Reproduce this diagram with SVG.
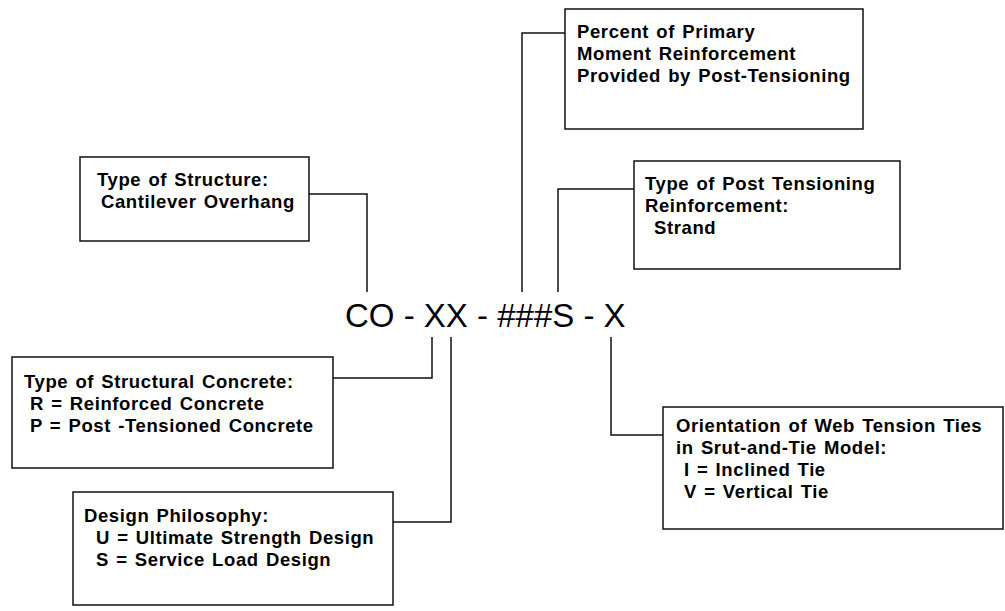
<svg xmlns="http://www.w3.org/2000/svg" width="1005" height="611" viewBox="0 0 1005 611">
<style>
.box{fill:#fff;stroke:#111;stroke-width:1.5}
.lbl{font-family:"Liberation Sans",Arial,sans-serif;font-weight:bold;font-size:18.5px;letter-spacing:0.6px;word-spacing:1.5px;fill:#000}
.conn{fill:none;stroke:#111;stroke-width:1.5}
.code{font-family:"Liberation Sans",Arial,sans-serif;font-size:33px;fill:#000}
</style>
<rect width="1005" height="611" fill="#fff"/>
<g id="connectors">
<polyline class="conn" points="309,194 367,194 367,292"/>
<polyline class="conn" points="565,33 522,33 522,292"/>
<polyline class="conn" points="634,189 558,189 558,292"/>
<polyline class="conn" points="333,378 432,378 432,337"/>
<polyline class="conn" points="393,522 451,522 451,337"/>
<polyline class="conn" points="663,435 611,435 611,337"/>
</g>
<g id="code">
<text class="code" x="345" y="327">CO - XX - ###S - X</text>
</g>
<g id="structure">
<rect class="box" x="80" y="157" width="229" height="84"/>
<text class="lbl" x="97" y="186">Type of Structure:</text>
<text class="lbl" x="101" y="208">Cantilever Overhang</text>
</g>
<g id="percent">
<rect class="box" x="565" y="9" width="298" height="120"/>
<text class="lbl" x="577" y="38">Percent of Primary</text>
<text class="lbl" x="577" y="60">Moment Reinforcement</text>
<text class="lbl" x="577" y="82">Provided by Post-Tensioning</text>
</g>
<g id="posttension">
<rect class="box" x="634" y="161" width="266" height="108"/>
<text class="lbl" x="645" y="190">Type of Post Tensioning</text>
<text class="lbl" x="645" y="212">Reinforcement:</text>
<text class="lbl" x="654" y="234">Strand</text>
</g>
<g id="concrete">
<rect class="box" x="12" y="357" width="321" height="111"/>
<text class="lbl" x="24" y="388">Type of Structural Concrete:</text>
<text class="lbl" x="30" y="410">R = Reinforced Concrete</text>
<text class="lbl" x="30" y="432">P = Post -Tensioned Concrete</text>
</g>
<g id="philosophy">
<rect class="box" x="73" y="492" width="320" height="113"/>
<text class="lbl" x="84" y="522">Design Philosophy:</text>
<text class="lbl" x="96" y="544">U = Ultimate Strength Design</text>
<text class="lbl" x="96" y="566">S = Service Load Design</text>
</g>
<g id="orientation">
<rect class="box" x="663" y="407" width="340" height="122"/>
<text class="lbl" x="676" y="432">Orientation of Web Tension Ties</text>
<text class="lbl" x="676" y="454">in Srut-and-Tie Model:</text>
<text class="lbl" x="684" y="476">I = Inclined Tie</text>
<text class="lbl" x="684" y="498">V = Vertical Tie</text>
</g>
</svg>
